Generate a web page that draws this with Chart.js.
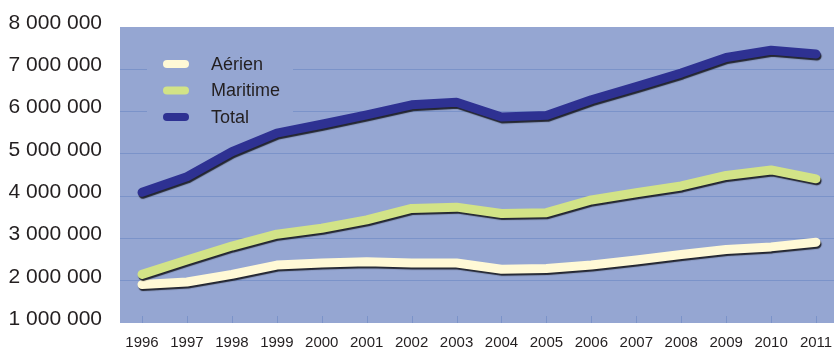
<!DOCTYPE html>
<html>
<head>
<meta charset="utf-8">
<script src="https://cdn.jsdelivr.net/npm/chart.js@4/dist/chart.umd.min.js"></script>
<style>
  html, body { margin: 0; padding: 0; background: #fff; }
  #wrap { width: 834px; height: 347px; position: relative; }
</style>
</head>
<body>
<div id="wrap"><canvas id="lineChart"></canvas></div>
<script>
// Trafic annuel 1996-2011
var annees = [1996, 1997, 1998, 1999, 2000, 2001, 2002, 2003, 2004, 2005, 2006, 2007, 2008, 2009, 2010, 2011];
var aerien = [1910000, 1970000, 2150000, 2370000, 2420000, 2450000, 2420000, 2420000, 2270000, 2290000, 2370000, 2490000, 2620000, 2740000, 2800000, 2910000];
var maritime = [2150000, 2490000, 2820000, 3100000, 3240000, 3440000, 3710000, 3740000, 3590000, 3610000, 3910000, 4080000, 4240000, 4490000, 4620000, 4410000];
var total = [4090000, 4460000, 5050000, 5490000, 5700000, 5920000, 6160000, 6220000, 5870000, 5910000, 6280000, 6590000, 6910000, 7280000, 7450000, 7360000];
var yTicks = [1000000, 2000000, 3000000, 4000000, 5000000, 6000000, 7000000, 8000000];

var fond = '#95a6d2';
var grille = '#7b93c9';
var texte = '#231f20';

function pts(vals) {
    return annees.map(function (a, i) { return {x: a, y: vals[i]}; });
}

function milliers(v) {
    return String(v).replace(/\B(?=(\d{3})+(?!\d))/g, ' ');
}

// fond bleu de la zone de tracé
var fondPlugin = {
    id: 'fond',
    beforeDraw: function (chart) {
        var a = chart.chartArea, ctx = chart.ctx;
        ctx.save();
        ctx.fillStyle = fond;
        ctx.fillRect(a.left, a.top, a.right - a.left, a.bottom - a.top);
        ctx.restore();
    }
};

// petits repères verticaux en bas + légende dans la zone de tracé
var legendePlugin = {
    id: 'legende',
    beforeDatasetsDraw: function (chart) {
        var ctx = chart.ctx, a = chart.chartArea, x = chart.scales.x;
        ctx.save();
        ctx.strokeStyle = grille;
        ctx.lineWidth = 1;
        annees.forEach(function (an) {
            var px = Math.round(x.getPixelForValue(an)) + 0.5;
            ctx.beginPath();
            ctx.moveTo(px, a.bottom - 7);
            ctx.lineTo(px, a.bottom);
            ctx.stroke();
        });

        ctx.fillStyle = fond;
        ctx.fillRect(a.left + 27, a.top + 14, 146, 104);

        ctx.font = '18px "Liberation Sans", Arial, sans-serif';
        ctx.textBaseline = 'middle';
        ctx.lineCap = 'round';
        chart.data.datasets.forEach(function (ds, i) {
            var y = a.top + 37 + i * 26.5;
            ctx.strokeStyle = ds.borderColor;
            ctx.lineWidth = 8;
            ctx.beginPath();
            ctx.moveTo(a.left + 47, y);
            ctx.lineTo(a.left + 65, y);
            ctx.stroke();
            ctx.fillStyle = texte;
            ctx.fillText(ds.label, a.left + 91, y + 1);
        });
        ctx.restore();
    },
    beforeDatasetDraw: function (chart) {
        var ctx = chart.ctx;
        ctx.save();
        ctx.shadowColor = 'rgba(15,15,20,0.85)';
        ctx.shadowOffsetX = 1;
        ctx.shadowOffsetY = 2;
        ctx.shadowBlur = 1;
    },
    afterDatasetDraw: function (chart) {
        chart.ctx.restore();
    }
};

var ligne = {
    borderWidth: 9,
    pointRadius: 0,
    tension: 0,
    borderJoinStyle: 'round',
    borderCapStyle: 'round',
    fill: false
};

var lineData = {
    datasets: [
        Object.assign({label: 'Aérien', data: pts(aerien), borderColor: '#fff9d6', order: 3}, ligne),
        Object.assign({label: 'Maritime', data: pts(maritime), borderColor: '#d2e387', order: 2}, ligne),
        Object.assign({label: 'Total', data: pts(total), borderColor: '#2e3192', order: 1}, ligne)
    ]
};

var lineOptions = {
    responsive: true,
    maintainAspectRatio: false,
    animation: false,
    layout: {padding: {top: 27, left: 8, right: 0, bottom: 0}},
    plugins: {legend: {display: false}, tooltip: {enabled: false}},
    scales: {
        x: {
            type: 'linear',
            min: 1995.51,
            max: 2011.4,
            afterBuildTicks: function (s) { s.ticks = annees.map(function (v) { return {value: v}; }); },
            afterFit: function (s) {
                s.height = 24;
                s.paddingLeft = 0;
                s.paddingRight = 0;
            },
            grid: {display: false, drawTicks: false},
            border: {display: false},
            ticks: {
                padding: 11,
                color: texte,
                font: {family: '"Liberation Sans", Arial, sans-serif', size: 15},
                maxRotation: 0,
                autoSkip: false,
                callback: function (v) { return String(v); }
            }
        },
        y: {
            min: 1000000,
            max: 8000000,
            afterBuildTicks: function (s) { s.ticks = yTicks.map(function (v) { return {value: v}; }); },
            afterFit: function (s) {
                s.width = 112;
                s.paddingTop = 0;
                s.paddingBottom = 0;
            },
            grid: {
                drawTicks: false,
                lineWidth: 1,
                color: function (c) {
                    return (c.tick && (c.tick.value === 1000000 || c.tick.value === 8000000)) ? 'rgba(0,0,0,0)' : grille;
                }
            },
            border: {display: false},
            ticks: {
                padding: 18,
                labelOffset: -4,
                color: texte,
                font: {family: '"Liberation Sans", Arial, sans-serif', size: 21},
                callback: function (v) { return milliers(v); }
            }
        }
    }
};

var ctx = document.getElementById('lineChart').getContext('2d');
new Chart(ctx, {type: 'line', data: lineData, options: lineOptions, plugins: [fondPlugin, legendePlugin]});
</script>
</body>
</html>
